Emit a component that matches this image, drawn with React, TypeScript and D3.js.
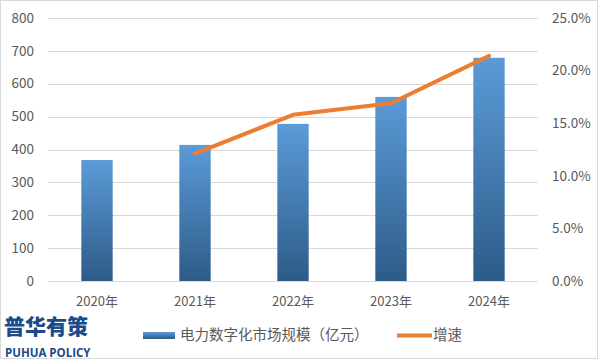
import React from "react";
import * as d3 from "d3";

const categories = ["2020年", "2021年", "2022年", "2023年", "2024年"];
const marketSize = [368, 414, 478, 560, 679];
const growth: (number | null)[] = [null, 12.1, 15.8, 16.9, 21.4];
const leftTicks = [0, 100, 200, 300, 400, 500, 600, 700, 800];
const rightTicks = [0, 5, 10, 15, 20, 25];
const barLabel = "电力数字化市场规模（亿元）";
const lineLabel = "增速";

export default function App() {
  const W = 601, H = 361;
  const left = 48, right = 538, top = 18, bottom = 281;
  const x = d3.scaleBand<string>().domain(categories).range([left, right]).paddingInner(0.68).paddingOuter(0.34);
  const yL = d3.scaleLinear().domain([0, 800]).range([bottom, top]);
  const yR = d3.scaleLinear().domain([0, 25]).range([bottom, top]);
  const pts = categories
    .map((c, i) => ({ c, v: growth[i] }))
    .filter((d) => d.v !== null) as { c: string; v: number }[];
  const line = d3
    .line<{ c: string; v: number }>()
    .x((d) => (x(d.c) as number) + x.bandwidth() / 2)
    .y((d) => yR(d.v));
  const font = "'Noto Sans CJK SC', 'Noto Sans', sans-serif";
  const grey = "#595959";
  return (
    <svg width={W} height={H} style={{ position: "absolute", left: 0, top: 0, display: "block" }}>
      <defs>
        <linearGradient id="barGrad" x1="0" y1="0" x2="0" y2="1">
          <stop offset="0%" stopColor="#5B9BD8" />
          <stop offset="100%" stopColor="#2D5B88" />
        </linearGradient>
        <linearGradient id="legGrad" x1="0" y1="0" x2="0" y2="1">
          <stop offset="0%" stopColor="#5B9BD8" />
          <stop offset="100%" stopColor="#2D5B88" />
        </linearGradient>
      </defs>
      <rect x={0} y={0} width={W} height={H} fill="#fff" />
      <rect x={0.5} y={0.5} width={597} height={358} fill="none" stroke="#d9d9d9" />
      {leftTicks.map((t) => (
        <line key={t} x1={left} x2={right} y1={Math.round(yL(t)) + 0.5} y2={Math.round(yL(t)) + 0.5} stroke="#d9d9d9" strokeWidth={1} />
      ))}
      {leftTicks.map((t) => (
        <text key={"l" + t} x={34} y={yL(t)} dy="0.35em" textAnchor="end" fontSize={13.5} fill={grey} fontFamily={font}>
          {t}
        </text>
      ))}
      {rightTicks.map((t) => (
        <text key={"r" + t} x={552} y={yR(t)} dy="0.35em" textAnchor="start" fontSize={13.5} fill={grey} fontFamily={font}>
          {t.toFixed(1)}%
        </text>
      ))}
      {categories.map((c, i) => (
        <rect key={c} x={x(c)} y={yL(marketSize[i])} width={x.bandwidth()} height={bottom - yL(marketSize[i])} fill="url(#barGrad)" />
      ))}
      {categories.map((c) => (
        <text key={"x" + c} x={(x(c) as number) + x.bandwidth() / 2} y={301} dy="0.35em" textAnchor="middle" fontSize={13} fill={grey} fontFamily={font}>
          {c}
        </text>
      ))}
      <path d={line(pts) || ""} fill="none" stroke="#ED7D31" strokeWidth={4} strokeLinejoin="round" strokeLinecap="round" />
      {/* legend */}
      <rect x={143} y={332} width={32} height={7} fill="url(#legGrad)" />
      <text x={180} y={335} dy="0.35em" fontSize={14.5} fill={grey} fontFamily={font}>
        {barLabel}
      </text>
      <line x1={397} x2={432} y1={335.5} y2={335.5} stroke="#ED7D31" strokeWidth={4} />
      <text x={433} y={335} dy="0.35em" fontSize={14.5} fill={grey} fontFamily={font}>
        {lineLabel}
      </text>
      {/* logo */}
      <text x={4} y={334} fontSize={21} fontWeight={900} fill="#1B4A8A" fontFamily={font} letterSpacing={0}>
        普华有策
      </text>
      <text x={5} y={357} fontSize={11.5} fontWeight={700} fill="#1B4A8A" fontFamily="'Open Sans', 'Noto Sans', sans-serif">
        PUHUA POLICY
      </text>
    </svg>
  );
}
